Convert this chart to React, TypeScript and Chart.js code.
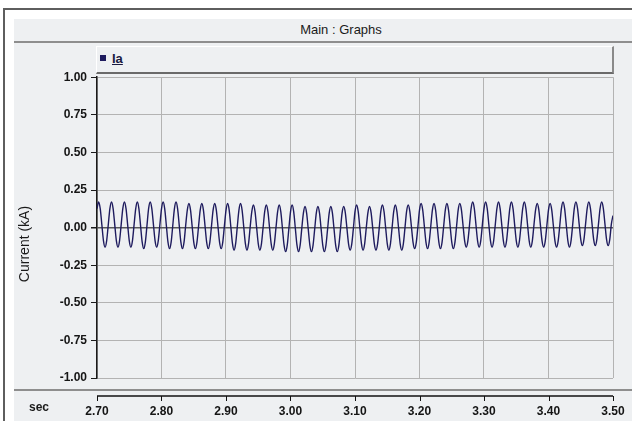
import React, { useEffect, useRef } from "react";
import { Chart, registerables } from "chart.js";

Chart.register(...registerables);

const TITLE = "Main : Graphs";
const SERIES_NAME = "Ia";
const Y_TITLE = "Current (kA)";
const X_UNIT = "sec";

const X_TICKS = [2.7, 2.8, 2.9, 3.0, 3.1, 3.2, 3.3, 3.4, 3.5];
const Y_TICKS = [-1, -0.75, -0.5, -0.25, 0, 0.25, 0.5, 0.75, 1];

const TIME_START = 2.7;
const SAMPLE_STEP = 0.0025; // s between samples

// Ia samples (kA), 8 samples per 50 Hz cycle
const IA = [
  0.126, 0.17, 0.126, 0.02, -0.086, -0.13, -0.086, 0.02,
  0.126, 0.17, 0.126, 0.02, -0.086, -0.13, -0.086, 0.02,
  0.126, 0.17, 0.126, 0.02, -0.086, -0.13, -0.086, 0.02,
  0.125, 0.17, 0.125, 0.015, -0.095, -0.14, -0.095, 0.015,
  0.126, 0.17, 0.126, 0.02, -0.086, -0.13, -0.086, 0.02,
  0.125, 0.17, 0.125, 0.015, -0.095, -0.14, -0.095, 0.015,
  0.125, 0.17, 0.125, 0.015, -0.095, -0.14, -0.095, 0.015,
  0.116, 0.16, 0.116, 0.01, -0.096, -0.14, -0.096, 0.01,
  0.116, 0.16, 0.116, 0.01, -0.096, -0.14, -0.096, 0.01,
  0.116, 0.16, 0.116, 0.01, -0.096, -0.14, -0.096, 0.01,
  0.115, 0.16, 0.115, 0.005, -0.105, -0.15, -0.105, 0.005,
  0.115, 0.16, 0.115, 0.005, -0.105, -0.15, -0.105, 0.005,
  0.106, 0.15, 0.106, 0.0, -0.106, -0.15, -0.106, 0.0,
  0.106, 0.15, 0.106, 0.0, -0.106, -0.15, -0.106, 0.0,
  0.105, 0.15, 0.105, -0.005, -0.115, -0.16, -0.115, -0.005,
  0.105, 0.15, 0.105, -0.005, -0.115, -0.16, -0.115, -0.005,
  0.096, 0.14, 0.096, -0.01, -0.116, -0.16, -0.116, -0.01,
  0.096, 0.14, 0.096, -0.01, -0.116, -0.16, -0.116, -0.01,
  0.096, 0.14, 0.096, -0.01, -0.116, -0.16, -0.116, -0.01,
  0.098, 0.14, 0.098, -0.005, -0.108, -0.15, -0.108, -0.005,
  0.106, 0.15, 0.106, 0.0, -0.106, -0.15, -0.106, 0.0,
  0.098, 0.14, 0.098, -0.005, -0.108, -0.15, -0.108, -0.005,
  0.106, 0.15, 0.106, 0.0, -0.106, -0.15, -0.106, 0.0,
  0.106, 0.15, 0.106, 0.0, -0.106, -0.15, -0.106, 0.0,
  0.108, 0.15, 0.108, 0.005, -0.098, -0.14, -0.098, 0.005,
  0.116, 0.16, 0.116, 0.01, -0.096, -0.14, -0.096, 0.01,
  0.116, 0.16, 0.116, 0.01, -0.096, -0.14, -0.096, 0.01,
  0.116, 0.16, 0.116, 0.01, -0.096, -0.14, -0.096, 0.01,
  0.118, 0.16, 0.118, 0.015, -0.088, -0.13, -0.088, 0.015,
  0.126, 0.17, 0.126, 0.02, -0.086, -0.13, -0.086, 0.02,
  0.126, 0.17, 0.126, 0.02, -0.086, -0.13, -0.086, 0.02,
  0.126, 0.17, 0.126, 0.02, -0.086, -0.13, -0.086, 0.02,
  0.126, 0.17, 0.126, 0.02, -0.086, -0.13, -0.086, 0.02,
  0.126, 0.17, 0.126, 0.02, -0.086, -0.13, -0.086, 0.02,
  0.118, 0.16, 0.118, 0.015, -0.088, -0.13, -0.088, 0.015,
  0.118, 0.16, 0.118, 0.015, -0.088, -0.13, -0.088, 0.015,
  0.126, 0.17, 0.126, 0.02, -0.086, -0.13, -0.086, 0.02,
  0.128, 0.17, 0.128, 0.025, -0.078, -0.12, -0.078, 0.025,
  0.128, 0.17, 0.128, 0.025, -0.078, -0.12, -0.078, 0.025,
  0.128, 0.17, 0.128, 0.025, -0.078, -0.12, -0.078, 0.025,
  0.08,
];

const LINE_COLOR = "#1e1b5e";
const PANEL_BG = "#eef0f2";
const FONT = '"Liberation Sans", Arial, sans-serif';

const axisPlugin = {
  id: "psAxis",
  afterDraw(chart: any) {
    const { ctx, chartArea } = chart;
    const xs = chart.scales.x;
    ctx.save();
    // separator between plot panel and axis strip
    ctx.strokeStyle = "#8e8e8e";
    ctx.lineWidth = 2;
    ctx.beginPath();
    ctx.moveTo(0, chartArea.bottom + 12);
    ctx.lineTo(chart.width, chartArea.bottom + 12);
    ctx.stroke();
    // time axis line with ticks
    const yA = chartArea.bottom + 18;
    ctx.strokeStyle = "#111";
    ctx.lineWidth = 1.5;
    ctx.beginPath();
    ctx.moveTo(chartArea.left, yA);
    ctx.lineTo(chartArea.right, yA);
    ctx.stroke();
    ctx.lineWidth = 1;
    ctx.beginPath();
    X_TICKS.forEach((v) => {
      const px = Math.round(xs.getPixelForValue(v)) + 0.5;
      ctx.moveTo(px, yA);
      ctx.lineTo(px, yA + 5);
    });
    ctx.stroke();
    ctx.restore();
  },
};

function GraphChart() {
  const ref = useRef<HTMLCanvasElement>(null);
  useEffect(() => {
    if (!ref.current) return;
    const data = IA.map((v, i) => ({ x: TIME_START + i * SAMPLE_STEP, y: v }));
    const chart = new Chart(ref.current, {
      type: "line",
      data: {
        datasets: [
          {
            label: SERIES_NAME,
            data,
            borderColor: LINE_COLOR,
            borderWidth: 1.4,
            pointRadius: 0,
            cubicInterpolationMode: "monotone",
            fill: false,
          },
        ],
      },
      options: {
        animation: false,
        responsive: false,
        events: [],
        layout: { padding: { top: 7, right: 19, bottom: 0, left: 0 } },
        plugins: { legend: { display: false }, tooltip: { enabled: false }, title: { display: false } },
        scales: {
          x: {
            type: "linear",
            min: 2.7,
            max: 3.5,
            afterBuildTicks: (axis: any) => {
              axis.ticks = X_TICKS.map((v) => ({ value: v }));
            },
            afterFit: (scale: any) => {
              scale.height = 43;
              scale.paddingLeft = 0;
              scale.paddingRight = 0;
            },
            border: { display: false },
            grid: { color: "#b3b3b3", lineWidth: 1, drawTicks: true, tickLength: 24, tickColor: "rgba(0,0,0,0)" },
            ticks: {
              padding: 2,
              color: "#151515",
              font: { family: FONT, size: 12, weight: "bold" },
              maxRotation: 0,
              autoSkip: false,
              callback: (v: any) => Number(v).toFixed(2),
            },
          },
          y: {
            min: -1,
            max: 1,
            afterBuildTicks: (axis: any) => {
              axis.ticks = Y_TICKS.map((v) => ({ value: v }));
            },
            afterFit: (scale: any) => {
              scale.width = 83;
            },
            border: { display: true, color: "#1a1a1a", width: 1.5 },
            grid: {
              color: (c: any) => (c.tick && c.tick.value === 0 ? "#5a5a5a" : "#b3b3b3"),
              lineWidth: (c: any) => (c.tick && c.tick.value === 0 ? 1.5 : 1),
              tickLength: 6,
              tickColor: "#1a1a1a",
            },
            ticks: {
              padding: 4,
              color: "#151515",
              font: { family: FONT, size: 12, weight: "bold" },
              autoSkip: false,
              callback: (v: any) => Number(v).toFixed(2),
            },
          },
        },
      },
      plugins: [axisPlugin],
    } as any);
    return () => chart.destroy();
  }, []);
  return (
    <canvas
      ref={ref}
      width={618}
      height={355}
      style={{ position: "absolute", left: 14, top: 66, width: 618, height: 355 }}
    />
  );
}

export default function App() {
  return (
    <div
      style={{
        position: "fixed",
        left: 0,
        top: 0,
        width: 632,
        height: 421,
        overflow: "hidden",
        background: "#ffffff",
        fontFamily: FONT,
      }}
    >
      {/* outer window frame */}
      <div
        style={{
          position: "absolute",
          left: 3,
          top: 8,
          width: 700,
          height: 500,
          borderLeft: "2px solid #5e5e5e",
          borderTop: "2px solid #5e5e5e",
          boxSizing: "border-box",
        }}
      />
      {/* grey panel */}
      <div style={{ position: "absolute", left: 14, top: 19, width: 700, height: 500, background: PANEL_BG }} />
      {/* title bar */}
      <div
        style={{
          position: "absolute",
          left: 241,
          top: 22,
          width: 200,
          textAlign: "center",
          fontSize: 13,
          color: "#1a1a1a",
          lineHeight: "16px",
        }}
      >
        {TITLE}
      </div>
      <div style={{ position: "absolute", left: 14, top: 41, width: 700, height: 2, background: "#8e8e8e" }} />
      {/* legend box */}
      <div
        style={{
          position: "absolute",
          left: 96,
          top: 46,
          width: 518,
          height: 28,
          boxSizing: "border-box",
          background: PANEL_BG,
          borderTop: "1px solid #ffffff",
          borderLeft: "1px solid #ffffff",
          borderRight: "2px solid #8a8a8a",
          borderBottom: "2px solid #6a6a6a",
        }}
      />
      <div style={{ position: "absolute", left: 100, top: 55, width: 6, height: 6, background: LINE_COLOR }} />
      <div
        style={{
          position: "absolute",
          left: 112,
          top: 51,
          fontSize: 13,
          fontWeight: "bold",
          color: "#1a1a40",
          textDecoration: "underline",
          lineHeight: "15px",
        }}
      >
        {SERIES_NAME}
      </div>
      <GraphChart />
      {/* y axis title */}
      <div style={{ position: "absolute", left: 24, top: 244, width: 0, height: 0 }}>
        <div
          style={{
            position: "absolute",
            left: -60,
            top: -9,
            width: 120,
            textAlign: "center",
            fontFamily: FONT,
            fontSize: 14,
            lineHeight: "18px",
            color: "#1a1a1a",
            transform: "rotate(-90deg)",
            whiteSpace: "nowrap",
          }}
        >
          {Y_TITLE}
        </div>
      </div>
      {/* x unit */}
      <div
        style={{
          position: "absolute",
          left: 29,
          top: 400,
          fontSize: 12,
          fontWeight: "bold",
          color: "#1a1a1a",
          lineHeight: "15px",
        }}
      >
        {X_UNIT}
      </div>
    </div>
  );
}
